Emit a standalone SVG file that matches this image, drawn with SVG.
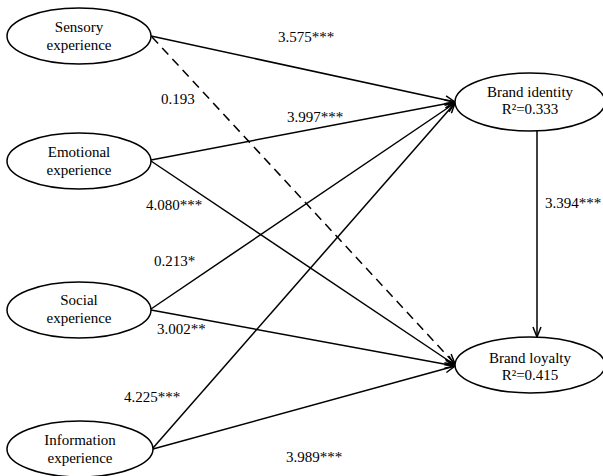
<svg xmlns="http://www.w3.org/2000/svg" width="603" height="476" viewBox="0 0 603 476" font-family="'Liberation Serif', 'Times New Roman', 'DejaVu Serif', serif" font-size="15">
<style>
.node ellipse{fill:#fff;stroke:#000;stroke-width:1.5}
text{font-family:'Liberation Serif','Times New Roman',serif;font-size:15px;fill:#000}
.c text{text-anchor:middle}
.edge{stroke:#000;stroke-width:1.5;fill:none;marker-end:url(#arr)}
.dash{stroke-dasharray:9,6}
</style>
<defs>
<marker id="arr" viewBox="0 0 12 10" refX="11" refY="5" markerWidth="12" markerHeight="10" markerUnits="userSpaceOnUse" orient="auto">
<path d="M1,1 L11,5 L1,9" fill="none" stroke="#000" stroke-width="1.5"/>
</marker>
</defs>
<g id="connectors">
<line class="edge" x1="151" y1="36" x2="455" y2="102"/>
<line class="edge dash" x1="152" y1="37" x2="455" y2="364"/>
<line class="edge" x1="151" y1="160" x2="455" y2="102"/>
<line class="edge" x1="151" y1="161" x2="455" y2="365"/>
<line class="edge" x1="151" y1="309" x2="455" y2="103"/>
<line class="edge" x1="151" y1="310" x2="455" y2="366"/>
<line class="edge" x1="153" y1="448" x2="455" y2="103"/>
<line class="edge" x1="153" y1="449" x2="455" y2="366"/>
<line class="edge" x1="537" y1="131" x2="537" y2="337"/>
</g>
<g id="labels">
<text x="278" y="42">3.575***</text>
<text x="161" y="104">0.193</text>
<text x="287" y="122">3.997***</text>
<text x="146" y="210">4.080***</text>
<text x="545" y="208">3.394***</text>
<text x="154" y="266">0.213*</text>
<text x="157" y="334">3.002**</text>
<text x="124" y="402">4.225***</text>
<text x="286" y="462">3.989***</text>
</g>
<g id="sensory" class="node c">
<ellipse cx="79" cy="36" rx="72" ry="28"/>
<text x="79" y="32">Sensory</text>
<text x="79" y="50">experience</text>
</g>
<g id="emotional" class="node c">
<ellipse cx="79" cy="161" rx="72" ry="28"/>
<text x="79" y="157">Emotional</text>
<text x="79" y="175">experience</text>
</g>
<g id="social" class="node c">
<ellipse cx="79" cy="310" rx="72" ry="28"/>
<text x="79" y="305">Social</text>
<text x="79" y="323">experience</text>
</g>
<g id="information" class="node c">
<ellipse cx="80" cy="449" rx="73" ry="28"/>
<text x="80" y="445">Information</text>
<text x="80" y="463">experience</text>
</g>
<g id="brand_identity" class="node c">
<ellipse cx="530" cy="102" rx="75" ry="29"/>
<text x="530" y="97">Brand identity</text>
<text x="530" y="114">R²=0.333</text>
</g>
<g id="brand_loyalty" class="node c">
<ellipse cx="530" cy="365" rx="75" ry="28"/>
<text x="530" y="363">Brand loyalty</text>
<text x="530" y="380">R²=0.415</text>
</g>
</svg>
